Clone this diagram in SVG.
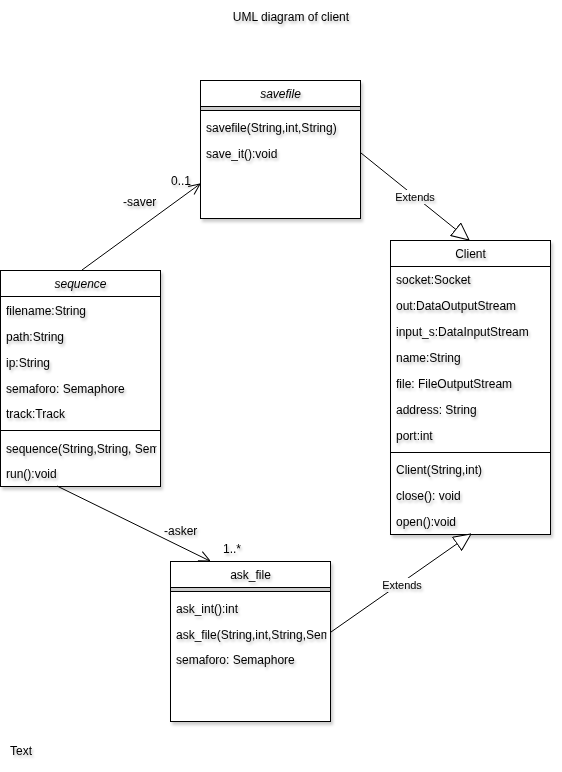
<svg xmlns="http://www.w3.org/2000/svg" width="562" height="772" viewBox="0 0 562 772">
<style>
text{font-family:"Liberation Sans",Arial,sans-serif;font-size:12px;fill:#000}
.it{font-style:italic}
.lbl{font-size:11px}
.box{fill:#fff;stroke:#000;stroke-width:1}
.sep{stroke:#000;stroke-width:1;fill:none}
.edge{stroke:#000;stroke-width:1;fill:none}
</style>
<defs>
<filter id="sh" x="-10%" y="-10%" width="130%" height="130%">
<feDropShadow dx="2" dy="3" stdDeviation="1.5" flood-color="#000" flood-opacity="0.2"/>
</filter>
<filter id="tsh" x="-10%" y="-30%" width="130%" height="180%">
<feDropShadow dx="1.5" dy="2.5" stdDeviation="1.2" flood-color="#000" flood-opacity="0.25"/>
</filter>
<marker id="open" viewBox="0 0 12 12" refX="12" refY="6" markerWidth="12" markerHeight="12" markerUnits="userSpaceOnUse" orient="auto">
<path d="M1,1 L12,6 L1,11" fill="none" stroke="#000" stroke-width="1"/>
</marker>
<marker id="tri" viewBox="0 0 18 17" refX="17.5" refY="8.5" markerWidth="18" markerHeight="17" markerUnits="userSpaceOnUse" orient="auto">
<path d="M0.5,0.5 L17.5,8.5 L0.5,16.5 Z" fill="#fff" stroke="#000" stroke-width="1"/>
</marker>
<clipPath id="cSeq"><rect x="0" y="270" width="156.5" height="217"/></clipPath>
<clipPath id="cAsk"><rect x="170" y="561" width="156.5" height="160"/></clipPath>
</defs>

<g id="title" filter="url(#tsh)"><text x="291" y="21" text-anchor="middle">UML diagram of client</text></g>

<g id="savefile">
<rect class="box" x="200.5" y="80.5" width="160" height="138" filter="url(#sh)"/>
<rect x="201" y="107" width="159" height="3" fill="#ccc"/>
<line class="sep" x1="200.5" y1="106.5" x2="360.5" y2="106.5"/>
<line class="sep" x1="200.5" y1="110.5" x2="360.5" y2="110.5"/>
<g filter="url(#tsh)">
<text class="it" x="280.5" y="97.5" text-anchor="middle">savefile</text>
<text x="206" y="132">savefile(String,int,String)</text>
<text x="206" y="158">save_it():void</text>
</g>
</g>

<g id="sequence">
<rect class="box" x="0.5" y="270.5" width="160" height="216" filter="url(#sh)"/>
<line class="sep" x1="0.5" y1="296.5" x2="160.5" y2="296.5"/>
<line class="sep" x1="0.5" y1="430.5" x2="160.5" y2="430.5"/>
<g filter="url(#tsh)" clip-path="url(#cSeq)">
<text class="it" x="80.5" y="287.5" text-anchor="middle">sequence</text>
<text x="6" y="315">filename:String</text>
<text x="6" y="341">path:String</text>
<text x="6" y="367">ip:String</text>
<text x="6" y="393">semaforo: Semaphore</text>
<text x="6" y="418">track:Track</text>
<text x="6" y="453">sequence(String,String, Semaphore,Track)</text>
<text x="6" y="478">run():void</text>
</g>
</g>

<g id="client">
<rect class="box" x="390.5" y="240.5" width="160" height="294" filter="url(#sh)"/>
<line class="sep" x1="390.5" y1="266.5" x2="550.5" y2="266.5"/>
<line class="sep" x1="390.5" y1="452.5" x2="550.5" y2="452.5"/>
<g filter="url(#tsh)">
<text x="470.5" y="257.5" text-anchor="middle">Client</text>
<text x="396" y="284">socket:Socket</text>
<text x="396" y="310">out:DataOutputStream</text>
<text x="396" y="336">input_s:DataInputStream</text>
<text x="396" y="362">name:String</text>
<text x="396" y="388">file: FileOutputStream</text>
<text x="396" y="414">address: String</text>
<text x="396" y="440">port:int</text>
<text x="396" y="474">Client(String,int)</text>
<text x="396" y="500">close(): void</text>
<text x="396" y="526">open():void</text>
</g>
</g>

<g id="ask_file">
<rect class="box" x="170.5" y="561.5" width="160" height="160" filter="url(#sh)"/>
<rect x="171" y="588" width="159" height="3" fill="#ccc"/>
<line class="sep" x1="170.5" y1="587.5" x2="330.5" y2="587.5"/>
<line class="sep" x1="170.5" y1="591.5" x2="330.5" y2="591.5"/>
<g filter="url(#tsh)" clip-path="url(#cAsk)">
<text x="250.5" y="578.5" text-anchor="middle">ask_file</text>
<text x="176" y="613">ask_int():int</text>
<text x="176" y="639">ask_file(String,int,String,Semaphore)</text>
<text x="176" y="664">semaforo: Semaphore</text>
</g>
</g>

<g id="connectors">
<path class="edge" d="M82,270 L200,184" marker-end="url(#open)"/>
<path class="edge" d="M57,486 L210,561" marker-end="url(#open)"/>
<path class="edge" d="M361,153 L469,240" marker-end="url(#tri)"/>
<path class="edge" d="M331,632 L471,534" marker-end="url(#tri)"/>
<g filter="url(#tsh)">
<text x="123" y="206">-saver</text>
<text x="171" y="185">0..1</text>
<text x="164" y="535">-asker</text>
<text x="223" y="553">1..*</text>
</g>
<rect x="393" y="190" width="44" height="14" fill="#fff"/>
<rect x="380" y="578" width="44" height="14" fill="#fff"/>
<g filter="url(#tsh)">
<text class="lbl" x="415" y="201" text-anchor="middle">Extends</text>
<text class="lbl" x="402" y="589" text-anchor="middle">Extends</text>
</g>
</g>

<g id="text-note" filter="url(#tsh)"><text x="10" y="755">Text</text></g>
</svg>
